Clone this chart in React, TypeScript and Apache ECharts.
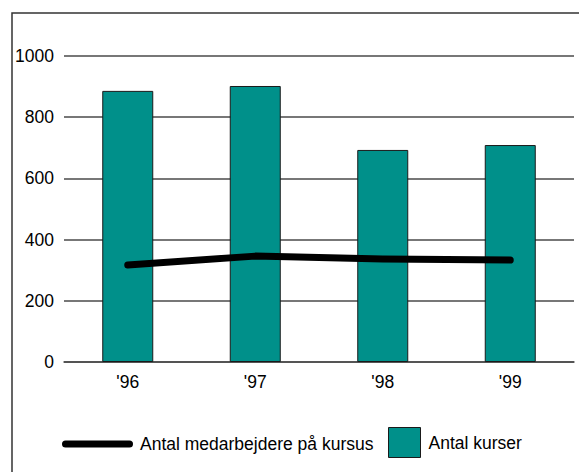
import React, { useEffect, useRef } from "react";
import * as echarts from "echarts";

const categories = ["'96", "'97", "'98", "'99"];
const kurserValues = [886, 902, 693, 709];
const medarbejdereValues = [317, 346, 337, 333];
const yTicks = { min: 0, max: 1000, interval: 200 };
const lineName = "Antal medarbejdere på kursus";
const barName = "Antal kurser";

const FONT = "'Liberation Sans', Arial, sans-serif";
const GRID = "#4a4a4a";
const TEAL = "#00908a";
const FS = 17.5;

export default function App() {
  const ref = useRef<HTMLDivElement>(null);
  useEffect(() => {
    if (!ref.current) return;
    const chart = echarts.init(ref.current, undefined, { renderer: "svg" });
    chart.setOption({
      animation: false,
      backgroundColor: "#ffffff",
      textStyle: { fontFamily: FONT },
      grid: { left: 64, right: 5, top: 56, bottom: 110, containLabel: false },
      graphic: [
        {
          type: "rect",
          shape: { x: 12, y: 13, width: 800, height: 700 },
          style: { fill: "none", stroke: "#333", lineWidth: 1.5 },
          silent: true,
        },
      ],
      xAxis: {
        type: "category",
        data: categories,
        boundaryGap: true,
        axisLine: { show: true, lineStyle: { color: GRID, width: 1.5 } },
        axisTick: { show: false },
        axisLabel: { fontSize: FS, color: "#000", margin: 11, fontFamily: FONT },
      },
      yAxis: {
        type: "value",
        min: yTicks.min,
        max: yTicks.max,
        interval: yTicks.interval,
        axisLine: { show: false },
        axisTick: { show: false },
        axisLabel: {
          fontSize: FS,
          color: "#000",
          margin: 10,
          fontFamily: FONT,
          formatter: (v: number) => String(v),
        },
        splitLine: { show: true, lineStyle: { color: GRID, width: 1.5 } },
      },
      legend: [
        {
          data: [
            {
              name: lineName,
              icon: "path://M3.5,0L67.5,0A3.5,3.5,0,0,1,67.5,7L3.5,7A3.5,3.5,0,0,1,3.5,0Z",
            },
          ],
          left: 62,
          top: 435,
          itemWidth: 71,
          itemHeight: 7,
          padding: 0,
          selectedMode: false,
          itemStyle: { color: "#000", borderWidth: 0 },
          textStyle: { fontSize: FS, color: "#000", fontFamily: FONT, padding: [0, 0, 0, 2] },
        },
        {
          data: [{ name: barName, icon: "rect" }],
          left: 388,
          top: 427,
          itemWidth: 32,
          itemHeight: 30,
          padding: 0,
          selectedMode: false,
          itemStyle: { color: TEAL, borderColor: "#1a1a1a", borderWidth: 1 },
          textStyle: { fontSize: FS, color: "#000", fontFamily: FONT, padding: [0, 0, 0, 3] },
        },
      ],
      series: [
        {
          name: barName,
          type: "bar",
          data: kurserValues,
          barWidth: 51,
          itemStyle: { color: TEAL, borderColor: "#1a1a1a", borderWidth: 1 },
          z: 2,
        },
        {
          name: lineName,
          type: "line",
          data: medarbejdereValues,
          symbol: "none",
          color: "#000",
          lineStyle: { color: "#000", width: 7, cap: "round", join: "round" },
          itemStyle: { color: "#000" },
          z: 3,
        },
      ],
    });
    return () => chart.dispose();
  }, []);
  return (
    <div
      ref={ref}
      style={{ position: "fixed", left: 0, top: 0, width: 579, height: 472, background: "#fff" }}
    />
  );
}
